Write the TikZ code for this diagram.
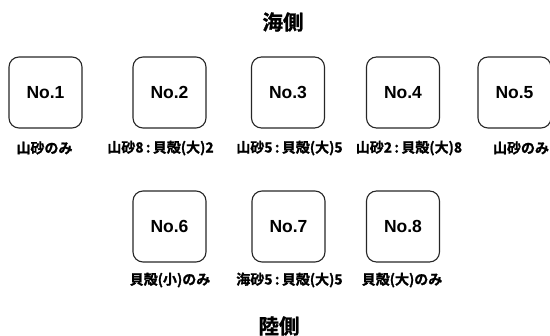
\documentclass[tikz,border=0pt]{standalone}
\usepackage{fontspec}
\setmainfont{Liberation Sans}
\newfontfamily\jp{Noto Sans CJK JP Bold}[FakeBold=1.2]
\begin{document}
\begin{tikzpicture}[x=1pt,y=-1pt,
  sample/.style={draw=black!85,line width=1.1pt,rounded corners=10pt,minimum width=73pt,minimum height=71pt,inner sep=0pt,font=\fontsize{17.5}{17.5}\selectfont\bfseries},
  lbl/.style={font=\jp\fontsize{14}{14}\selectfont,inner sep=0pt},
  side/.style={font=\jp\fontsize{20.5}{21}\selectfont,inner sep=0pt}]
\useasboundingbox (0,0) rectangle (550,336);
\node[side] (sea) at (283,22) {海側};
\node[sample] (n1) at (45.5,92.5) {No.1};
\node[sample] (n2) at (169.5,92.5) {No.2};
\node[sample] (n3) at (288,92.5) {No.3};
\node[sample] (n4) at (403,92.5) {No.4};
\node[sample] (n5) at (514.5,92.5) {No.5};
\node[lbl] (l1) at (44.5,148) {山砂のみ};
\node[lbl] (l2) at (160.5,148) {山砂8\,:\,貝殻(大)2};
\node[lbl] (l3) at (289.5,148) {山砂5\,:\,貝殻(大)5};
\node[lbl] (l4) at (409,148) {山砂2\,:\,貝殻(大)8};
\node[lbl] (l5) at (521,148) {山砂のみ};
\node[sample] (n6) at (169.5,226.5) {No.6};
\node[sample] (n7) at (288.5,226.5) {No.7};
\node[sample] (n8) at (403,226.5) {No.8};
\node[lbl] (l6) at (170,280) {貝殻(小)のみ};
\node[lbl] (l7) at (289.5,280) {海砂5\,:\,貝殻(大)5};
\node[lbl] (l8) at (402,280) {貝殻(大)のみ};
\node[side] (land) at (279,326) {陸側};
\end{tikzpicture}
\end{document}
